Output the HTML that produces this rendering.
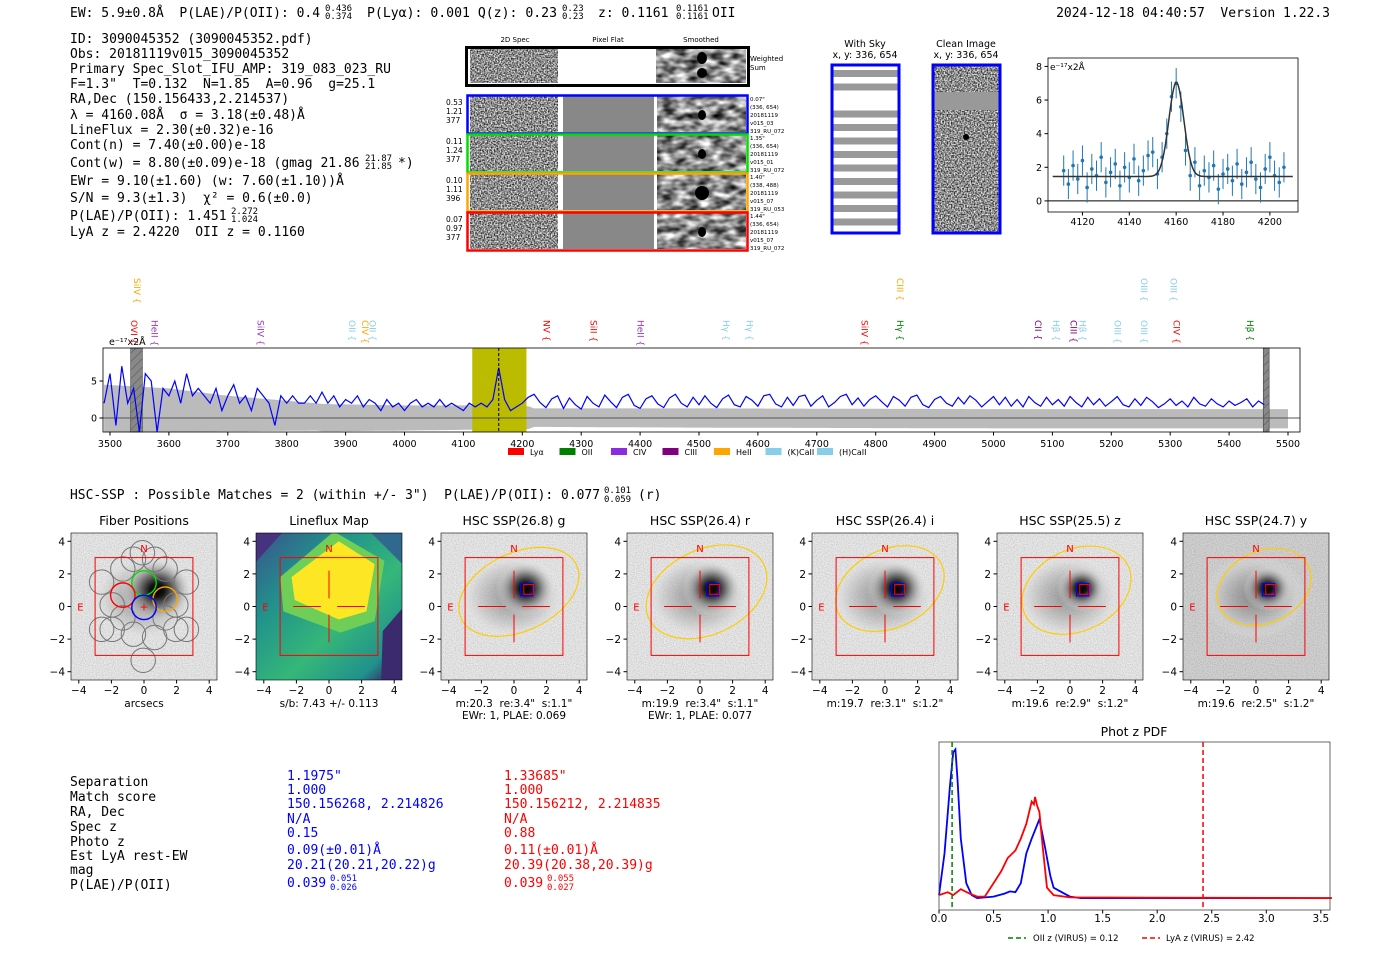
<!DOCTYPE html>
<html><head><meta charset="utf-8"><style>
html,body{margin:0;padding:0;background:#fff}
svg{display:block}
text{white-space:pre}
.m{font-family:"DejaVu Sans Mono","Liberation Mono",monospace;font-size:13px}
.s{font-family:"DejaVu Sans","Liberation Sans",sans-serif}
</style></head><body>
<svg id="fig" width="1400" height="953" viewBox="0 0 1400 953" xmlns="http://www.w3.org/2000/svg" xml:space="preserve">
<defs>
<filter id="nz" x="0" y="0" width="100%" height="100%"><feTurbulence type="fractalNoise" baseFrequency="0.7" numOctaves="1" seed="3"/><feColorMatrix type="matrix" values="0 0 0 0 0  0 0 0 0 0  0 0 0 0 0  0 0 0 -1.7 1.3"/></filter>
<filter id="nzs" x="0" y="0" width="100%" height="100%"><feTurbulence type="fractalNoise" baseFrequency="0.08 0.15" numOctaves="2" seed="5"/><feColorMatrix type="matrix" values="0 0 0 0 0  0 0 0 0 0  0 0 0 0 0  0 0 0 -1.5 1.2"/></filter>
<filter id="nzf" x="0" y="0" width="100%" height="100%"><feTurbulence type="fractalNoise" baseFrequency="0.9" numOctaves="1" seed="7"/><feColorMatrix type="matrix" values="0 0 0 0 0  0 0 0 0 0  0 0 0 0 0  0 0 0 -0.6 0.4"/></filter>
<radialGradient id="gal" cx="0.5" cy="0.5" r="0.5"><stop offset="0" stop-color="#000"/><stop offset="0.2" stop-color="#111"/><stop offset="0.5" stop-color="#777"/><stop offset="1" stop-color="#ececec" stop-opacity="0"/></radialGradient>
<radialGradient id="galsoft" cx="0.5" cy="0.5" r="0.5"><stop offset="0" stop-color="#444"/><stop offset="0.4" stop-color="#888"/><stop offset="0.75" stop-color="#ccc"/><stop offset="1" stop-color="#eee" stop-opacity="0"/></radialGradient>
<linearGradient id="vir" x1="0" y1="0" x2="1" y2="1"><stop offset="0" stop-color="#3b528b"/><stop offset="0.3" stop-color="#21918c"/><stop offset="0.6" stop-color="#35b779"/><stop offset="0.85" stop-color="#21918c"/><stop offset="1" stop-color="#440154"/></linearGradient>
<pattern id="hatch" width="6" height="6" patternUnits="userSpaceOnUse" patternTransform="rotate(45)"><rect width="6" height="6" fill="#888"/><line x1="0" y1="0" x2="0" y2="6" stroke="#555" stroke-width="1"/></pattern>
</defs>

<g class="m" fill="#000">
<text x="70" y="17" textLength="250" lengthAdjust="spacingAndGlyphs">EW: 5.9±0.8Å  P(LAE)/P(OII): 0.4</text>
<text x="325" y="11" style="font-size:9px">0.436</text><text x="325" y="19" style="font-size:9px">0.374</text>
<text x="367" y="17" textLength="190" lengthAdjust="spacingAndGlyphs">P(Lyα): 0.001 Q(z): 0.23</text>
<text x="562" y="11" style="font-size:9px">0.23</text><text x="562" y="19" style="font-size:9px">0.23</text>
<text x="598" y="17">z: 0.1161</text>
<text x="676" y="11" style="font-size:9px">0.1161</text><text x="676" y="19" style="font-size:9px">0.1161</text>
<text x="712" y="17">OII</text>
<text x="1330" y="17" text-anchor="end">2024-12-18 04:40:57  Version 1.22.3</text>
</g>

<g class="m" fill="#000">
<text x="70" y="43">ID: 3090045352 (3090045352.pdf)</text>
<text x="70" y="58">Obs: 20181119v015_3090045352</text>
<text x="70" y="73">Primary Spec_Slot_IFU_AMP: 319_083_023_RU</text>
<text x="70" y="88">F=1.3"  T=0.132  N=1.85  A=0.96  g=25.1</text>
<text x="70" y="103">RA,Dec (150.156433,2.214537)</text>
<text x="70" y="119">λ = 4160.08Å  σ = 3.18(±0.48)Å</text>
<text x="70" y="134">LineFlux = 2.30(±0.32)e-16</text>
<text x="70" y="149">Cont(n) = 7.40(±0.00)e-18</text>
<text x="70" y="167">Cont(w) = 8.80(±0.09)e-18 (gmag 21.86</text>
<text x="365" y="161" style="font-size:9px">21.87</text><text x="365" y="169" style="font-size:9px">21.85</text>
<text x="398" y="167">*)</text>
<text x="70" y="185">EWr = 9.10(±1.60) (w: 7.60(±1.10))Å</text>
<text x="70" y="202">S/N = 9.3(±1.3)  χ² = 0.6(±0.0)</text>
<text x="70" y="220">P(LAE)/P(OII): 1.451</text>
<text x="231" y="214" style="font-size:9px">2.272</text><text x="231" y="222" style="font-size:9px">1.024</text>
<text x="70" y="236">LyA z = 2.4220  OII z = 0.1160</text>
</g>

<g class="s" font-size="7">
<text x="515" y="42" text-anchor="middle">2D Spec</text>
<text x="608" y="42" text-anchor="middle">Pixel Flat</text>
<text x="701" y="42" text-anchor="middle">Smoothed</text>
<rect x="466" y="47" width="282" height="38" fill="#fff"/>
<rect x="470" y="49" width="88" height="34" fill="#fff" filter="url(#nz)"/>
<rect x="656" y="49" width="90" height="34" fill="#fff" filter="url(#nzs)"/>
<ellipse cx="702" cy="58" rx="5" ry="6" fill="#000"/><ellipse cx="702" cy="73" rx="5" ry="5" fill="#000"/>
<rect x="466.5" y="47.5" width="282" height="38" fill="none" stroke="#000" stroke-width="3"/>
<text x="750" y="61">Weighted</text><text x="750" y="70">Sum</text>
<g id="rows"></g>
</g>

<g>
<text class="s" x="865" y="47" font-size="9.5" text-anchor="middle">With Sky</text>
<text class="s" x="865" y="58" font-size="9.5" text-anchor="middle">x, y: 336, 654</text>
<rect x="832" y="65" width="67" height="168" fill="#fff"/>
<g id="skystripes"></g>
<rect x="832" y="65" width="67" height="168" fill="none" stroke="#00f" stroke-width="3"/>
</g>
<g>
<text class="s" x="966" y="47" font-size="9.5" text-anchor="middle">Clean Image</text>
<text class="s" x="966" y="58" font-size="9.5" text-anchor="middle">x, y: 336, 654</text>
<rect x="933" y="65" width="67" height="168" fill="#fff" filter="url(#nz)"/>
<rect x="933" y="92" width="67" height="18" fill="#999"/>
<circle cx="966" cy="137" r="3" fill="#000"/>
<rect x="933" y="65" width="67" height="168" fill="none" stroke="#00f" stroke-width="3"/>
</g>

<g id="zoomplot" class="s" font-size="9.5"></g>
<g id="specplot" class="s" font-size="9.5"></g>

<text class="m" x="70" y="499" textLength="530" lengthAdjust="spacingAndGlyphs">HSC-SSP : Possible Matches = 2 (within +/- 3")  P(LAE)/P(OII): 0.077</text>
<text class="m" x="604" y="493" style="font-size:9px">0.101</text>
<text class="m" x="604" y="502" style="font-size:9px">0.059</text>
<text class="m" x="638" y="499">(r)</text>

<g id="cutouts" class="s"></g>

<g class="m">
<g fill="#000">
<text x="70" y="786">Separation</text><text x="70" y="801">Match score</text><text x="70" y="816">RA, Dec</text>
<text x="70" y="831">Spec z</text><text x="70" y="846">Photo z</text><text x="70" y="860">Est LyA rest-EW</text>
<text x="70" y="874">mag</text><text x="70" y="889">P(LAE)/P(OII)</text></g>
<g fill="#0000ff">
<text x="287" y="780">1.1975"</text><text x="287" y="794">1.000</text><text x="287" y="808">150.156268, 2.214826</text>
<text x="287" y="823">N/A</text><text x="287" y="837">0.15</text><text x="287" y="854">0.09(±0.01)Å</text>
<text x="287" y="869">20.21(20.21,20.22)g</text><text x="287" y="887">0.039</text>
<text x="330" y="881" style="font-size:9px">0.051</text><text x="330" y="890" style="font-size:9px">0.026</text></g>
<g fill="#ff0000">
<text x="504" y="780">1.33685"</text><text x="504" y="794">1.000</text><text x="504" y="808">150.156212, 2.214835</text>
<text x="504" y="823">N/A</text><text x="504" y="837">0.88</text><text x="504" y="854">0.11(±0.01)Å</text>
<text x="504" y="869">20.39(20.38,20.39)g</text><text x="504" y="887">0.039</text>
<text x="547" y="881" style="font-size:9px">0.055</text><text x="547" y="890" style="font-size:9px">0.027</text></g>
</g>

<g id="pdfplot" class="s" font-size="11"></g>
</svg>

<script>
const specStart = 3490, specStep = 10;
const specFlux = [2,6,-1,7,2,4,-2,6,5,-2,4,3,5,2,6,3,4,3,2,4,1,3,4.5,2,3,1,4,3,2,-1,3,2,3,2,2,3,2,
3.5,2,3,1.5,2.5,2,3,1.5,2.5,2,1,2.5,1.5,2,1,2,2.5,1.5,2,1.5,2.5,1.5,2,1.5,1,
2,1.5,2,1.5,2.5,6.8,2.5,1,1.5,2,
2.8,3.2,2.1,1.4,2.6,3.0,1.3,2.7,1.8,1.2,2.9,2.0,1.5,3.1,2.2,1.4,2.8,3.2,1.7,1.3,2.6,3.0,1.9,1.4,2.7,3.2,2.0,1.5,2.8,1.8,
3.0,2.0,1.4,2.6,3.1,1.8,1.5,2.9,2.4,1.6,3.0,3.2,1.9,1.5,2.8,1.7,2.9,3.1,1.6,2.4,3.0,1.5,2.1,2.9,3.2,1.8,2.7,1.6,2.5,3.0,
2.2,1.5,2.9,2.4,1.6,2.8,3.1,1.8,1.4,2.5,2.9,2.0,1.6,2.8,1.9,3.0,2.4,1.5,2.2,2.9,1.8,2.8,1.6,2.5,1.5,2.9,2.1,1.6,2.8,1.8,
2.5,1.6,2.9,2.1,1.5,2.8,1.8,2.6,1.6,2.2,2.9,1.8,1.5,2.6,1.7,2.8,2.2,1.4,1.9,2.6,1.7,2.3,1.5,2.8,1.9,1.6,2.6,1.9,1.5,2.3,1.7,2.1,2.6,1.5,2.3,1.8];
const errWave = [3490,3600,3700,3850,3860,4000,4100,4210,4220,4500,5000,5500];
const errHi = [4.5,4,3,2,1.9,1.7,1.7,1.6,1.3,1.3,1.2,1.2];
const errLo = [-2,-1.9,-1.8,-1.7,-1.8,-1.7,-1.6,-1.5,-1.2,-1.3,-1.4,-1.4];
const specTicks = [3500,3600,3700,3800,3900,4000,4100,4200,4300,4400,4500,4600,4700,4800,4900,5000,5100,5200,5300,5400,5500];
const bandLo = 4115, bandHi = 4207, lineCenter = 4160;
const maskBands = [[3535,3555],[5458,5468]];
const lineLabels = [["SiIV",3545,1,"#ffa500"],["OVI",3540,0,"#ff0000"],["HeII",3575,0,"#9932cc"],["SiIV",3755,0,"#9932cc"],
["OII",3910,0,"#87ceeb"],["CIV",3932,0,"#ffa500"],["OII",3945,0,"#87ceeb"],["NV",4240,0,"#ff0000"],["SiII",4320,0,"#ff0000"],
["HeII",4400,0,"#9932cc"],["Hγ",4545,0,"#87ceeb"],["Hγ",4585,0,"#87ceeb"],["SiIV",4780,0,"#ff0000"],["CIII",4840,1,"#ffa500"],
["Hγ",4840,0,"#008000"],["CII",5075,0,"#800080"],["Hβ",5105,0,"#87ceeb"],["CIII",5135,0,"#800080"],["Hβ",5150,0,"#87ceeb"],
["OIII",5210,0,"#87ceeb"],["OIII",5255,0,"#87ceeb"],["OIII",5255,1,"#87ceeb"],["OIII",5305,1,"#87ceeb"],["CIV",5310,0,"#ff0000"],["Hβ",5435,0,"#008000"]];
const legendNames = ["Lyα","OII","CIV","CIII","HeII","(K)CaII","(H)CaII"];
const legendColors = ["#ff0000","#008000","#8a2be2","#800080","#ffa500","#87ceeb","#87ceeb"];

const fitWave = [4112,4114,4116,4118,4120,4122,4124,4126,4128,4130,4132,4134,4136,4138,4140,4142,4144,4146,4148,4150,4152,4154,4156,4158,4160,4162,4164,4166,4168,4170,4172,4174,4176,4178,4180,4182,4184,4186,4188,4190,4192,4194,4196,4198,4200,4202,4204,4206];
const fitFlux = [1.8,1.0,2.1,1.3,2.4,0.8,1.9,1.5,2.6,1.1,1.7,2.2,0.9,2.0,1.4,2.5,1.2,1.8,2.7,2.9,1.6,2.6,4.0,6.2,7.0,5.6,3.0,1.5,2.3,0.9,1.8,1.4,2.1,0.7,1.6,1.9,1.2,2.2,1.0,1.7,2.3,1.3,0.8,1.9,2.6,1.5,1.1,2.0];
const fitErr = [0.9,0.9,0.9,0.9,0.9,0.9,0.9,0.9,0.9,0.9,0.9,0.9,0.9,0.9,0.9,0.9,0.9,0.9,0.9,0.9,0.9,0.9,0.9,0.9,0.9,0.9,0.9,0.9,0.9,0.9,0.9,0.9,0.9,0.9,0.9,0.9,0.9,0.9,0.9,0.9,0.9,0.9,0.9,0.9,0.9,0.9,0.9,0.9];
const fitCont = 1.45, fitAmp = 5.6, fitMu = 4160.08, fitSigma = 3.18;
const fitXTicks = [4120,4140,4160,4180,4200];
const fitYTicks = [0,2,4,6,8];

const pdfZ = [0,0.05,0.1,0.13,0.15,0.17,0.2,0.25,0.3,0.35,0.5,0.6,0.65,0.7,0.75,0.8,0.85,0.92,0.97,1.02,1.05,1.1,1.2,1.3,3.6];
const pdfBlue = [0.02,0.3,0.75,0.98,1.0,0.8,0.4,0.1,0.02,0,0.01,0.03,0.045,0.04,0.1,0.3,0.4,0.53,0.35,0.15,0.07,0.05,0.01,0,0];
const pdfZr = [0,0.08,0.13,0.2,0.28,0.35,0.42,0.5,0.57,0.63,0.7,0.75,0.8,0.85,0.87,0.88,0.9,0.92,0.95,0.99,1.05,1.2,3.6];
const pdfRed = [0.02,0.04,0.02,0.06,0.03,0.01,0.01,0.1,0.18,0.27,0.32,0.4,0.5,0.65,0.63,0.68,0.62,0.58,0.35,0.07,0.02,0.005,0];
const pdfTicks = [0,0.5,1.0,1.5,2.0,2.5,3.0,3.5];
const oiiZ = 0.12, lyaZ = 2.42;

const cutTitles = ["Fiber Positions","Lineflux Map","HSC SSP(26.8) g","HSC SSP(26.4) r","HSC SSP(26.4) i","HSC SSP(25.5) z","HSC SSP(24.7) y"];
const cutCaps = [["arcsecs"],["s/b: 7.43 +/- 0.113"],["m:20.3  re:3.4\"  s:1.1\"","EWr: 1, PLAE: 0.069"],["m:19.9  re:3.4\"  s:1.1\"","EWr: 1, PLAE: 0.077"],["m:19.7  re:3.1\"  s:1.2\""],["m:19.6  re:2.9\"  s:1.2\""],["m:19.6  re:2.5\"  s:1.2\""]];
const ellRx = [0,0,3.9,3.9,3.5,3.5,3.0];
const ellRy = [0,0,2.4,2.6,2.4,2.5,2.2];
const ellCx = [0,0,0.3,0.4,0.3,0.4,0.5];
const ellCy = [0,0,0.9,0.9,1.1,1.0,1.2];
const cutTicks = [-4,-2,0,2,4];
const fiberX = [-2.6,-1.3,1.3,2.6,-2.6,-1.3,1.3,2.6,-1.95,1.95,-1.95,-0.65,0.65,1.95,-0.65,0.65,-0.1,-0.05];
const fiberY = [1.5,2.3,2.3,1.5,-1.4,-0.7,-0.7,-1.4,0.1,0.1,-1.4,-1.7,-1.9,-1.4,2.9,2.9,3.3,-3.3];
const colFibX = [0,-1.3,1.3,0], colFibY = [1.45,0.7,0.45,-0.05], colFibC = ["#00dd00","#ff0000","#ffa500","#0000ff"];

const rowColors = ["#0000ff","#00dd00","#ffa500","#ff0000"];
const rowStats = [["0.53","1.21","377"],["0.11","1.24","377"],["0.10","1.11","396"],["0.07","0.97","377"]];
const rowInfo = [["0.07\"","(336, 654)","20181119","v015_03","319_RU_072"],["1.35\"","(336, 654)","20181119","v015_01","319_RU_072"],["1.40\"","(338, 488)","20181119","v015_07","319_RU_053"],["1.44\"","(336, 654)","20181119","v015_07","319_RU_072"]];

const NS = "http://www.w3.org/2000/svg";
function mk(tag, attrs, parent) { const e = document.createElementNS(NS, tag); for (const k in attrs) e.setAttribute(k, attrs[k]); parent.appendChild(e); return e; }
function txt(s, attrs, parent) { const e = mk('text', attrs, parent); e.textContent = s; return e; }

const rows = document.getElementById('rows');
const rowTop = [95, 134, 173, 212], rowH = 38;
rowColors.forEach((c, i) => {
  const y = rowTop[i];
  let r = mk('rect', {x:470,y:y+1,width:88,height:rowH-2,fill:'#fff',filter:'url(#nz)'}, rows);
  
  
  r = mk('rect', {x:563,y:y+1,width:91,height:rowH-2,fill:'#888'}, rows);
  
  
  r = mk('rect', {x:657,y:y+1,width:89,height:rowH-2,fill:'#fff',filter:'url(#nzs)'}, rows);
  
  
  const d = mk('ellipse', {cx:702,cy:y+20,rx:4+(i==2?3:0),ry:5+(i==2?2:0),fill:'#000'}, rows);
  
  
  const b = mk('rect', {x:467.5,y:y+0.5,width:280,height:rowH,fill:'none',stroke:c,'stroke-width':2.5}, rows);
  
  
  rowStats[i].forEach((s, k) => {
    const t = txt(s, {x:446,y:y+10+k*9,'font-size':7.5}, rows);
    
    
  });
  rowInfo[i].forEach((s, k) => {
    const t = txt(s, {x:750,y:y+6+k*8,'font-size':5.5}, rows);
    
    
  });
});
const sky = document.getElementById('skystripes');
for (let k = 0; k < 12; k++) {
  if (k === 2) continue;
  const s = mk('rect', {x:832,y:70+k*13.5,width:67,height:7,fill:'#999'}, sky);
  
  
}

(function(){
  const g = document.getElementById('zoomplot');
  const L=1048,R=1298,T=58,B=212, x0=4105.3,x1=4212, y0=-0.66,y1=8.5;
  const X = w => L+(w-x0)/(x1-x0)*(R-L), Y = v => B-(v-y0)/(y1-y0)*(B-T);
  let a = mk('line',{x1:L,x2:R,y1:Y(0),y2:Y(0),stroke:'#000','stroke-width':1}, g);
   
  fitWave.forEach((w,i)=>{
    const e = mk('line',{x1:X(w),x2:X(w),y1:Y(fitFlux[i]-fitErr[i]),y2:Y(fitFlux[i]+fitErr[i]),stroke:'#1f77b4','stroke-width':1}, g);
     
    const p = mk('circle',{cx:X(w),cy:Y(fitFlux[i]),r:1.8,fill:'#1f77b4'}, g);
     
  });
  let d='';
  for (let w=x0+2; w<=x1-2; w+=0.5){ const v = fitCont+fitAmp*Math.exp(-0.5*((w-fitMu)/fitSigma)**2); d += (d?'L':'M')+X(w).toFixed(1)+','+Y(v).toFixed(1); }
  const m = mk('path',{d:d,fill:'none',stroke:'#333','stroke-width':1.5}, g);
   
  const fr = mk('rect',{x:L,y:T,width:R-L,height:B-T,fill:'none',stroke:'#000','stroke-width':0.8}, g);
   
  fitXTicks.forEach(t=>{
    const l = mk('line',{x1:X(t),x2:X(t),y1:B,y2:B+3.5,stroke:'#000'}, g);
     
    const s = txt(String(t),{x:X(t),y:B+13,'text-anchor':'middle'}, g);
     
  });
  fitYTicks.forEach(t=>{
    const l = mk('line',{x1:L-3.5,x2:L,y1:Y(t),y2:Y(t),stroke:'#000'}, g);
     
    const s = txt(String(t),{x:L-6,y:Y(t)+3.5,'text-anchor':'end'}, g);
     
  });
  const u = txt('e⁻¹⁷x2Å',{x:L+2,y:T+12,'font-size':9}, g);
   
})();

(function(){
  const g = document.getElementById('specplot');
  const L=103,R=1300,T=348,B=432;
  const X = w => 110+(w-3500)*(1288-110)/2000, Y = v => 418-v*7.4;
  const interp = (arr, w) => { for (let i=1;i<errWave.length;i++) if (w<=errWave[i]) { const f=(w-errWave[i-1])/(errWave[i]-errWave[i-1]); return arr[i-1]+f*(arr[i]-arr[i-1]); } return arr[arr.length-1]; };
  let up='', lo='';
  for (let w=3490; w<=5500; w+=5){ up += (up?'L':'M')+X(w).toFixed(1)+','+Math.max(T,Y(interp(errHi,w))).toFixed(1); }
  for (let w=5500; w>=3490; w-=5){ lo += 'L'+X(w).toFixed(1)+','+Math.min(B,Y(interp(errLo,w))).toFixed(1); }
  const band = mk('path',{d:up+lo+'Z',fill:'#bbb'}, g);
   
  const yb = mk('rect',{x:X(bandLo),y:T,width:X(bandHi)-X(bandLo),height:B-T,fill:'#bbbb00'}, g);
   
  maskBands.forEach(mb=>{
    const r = mk('rect',{x:X(mb[0]),y:T,width:X(mb[1])-X(mb[0]),height:B-T,fill:'url(#hatch)',stroke:'#444','stroke-width':0.6}, g);
     
  });
  const z = mk('line',{x1:L,x2:R,y1:Y(0),y2:Y(0),stroke:'#555','stroke-width':1}, g);
   
  let d='';
  specFlux.forEach((v,i)=>{ const w=specStart+i*specStep; d += (i?'L':'M')+X(w).toFixed(1)+','+Math.min(B,Math.max(T,Y(v))).toFixed(1); });
  const p = mk('path',{d:d,fill:'none',stroke:'#0000ff','stroke-width':1.2}, g);
   
  const c = mk('line',{x1:X(lineCenter),x2:X(lineCenter),y1:T,y2:B,stroke:'#000','stroke-dasharray':'3,2','stroke-width':1}, g);
   
  const fr = mk('rect',{x:L,y:T,width:R-L,height:B-T,fill:'none',stroke:'#000','stroke-width':0.8}, g);
   
  specTicks.forEach(t=>{
    const l = mk('line',{x1:X(t),x2:X(t),y1:B,y2:B+3.5,stroke:'#000'}, g);
     
    const s = txt(String(t),{x:X(t),y:B+15,'text-anchor':'middle'}, g);
     
  });
  [0,5].forEach(t=>{
    const l = mk('line',{x1:L-3.5,x2:L,y1:Y(t),y2:Y(t),stroke:'#000'}, g);
     
    const s = txt(String(t),{x:L-6,y:Y(t)+3.5,'text-anchor':'end'}, g);
     
  });
  const u = txt('e⁻¹⁷x2Å',{x:L+6,y:T-3,'font-size':9.5}, g);
   
  lineLabels.forEach(ll=>{
    const x = X(ll[1]), y = ll[2] ? 278 : 320;
    const t = txt(ll[0]+' {',{x:x,y:y,'font-size':9,fill:ll[3],transform:'rotate(90 '+x+' '+y+')','dominant-baseline':'middle'}, g);
     
  });
  legendNames.forEach((n,i)=>{
    const x = 508+i*51.5;
    const r = mk('rect',{x:x,y:448,width:16,height:7,fill:legendColors[i]}, g);
     
    const t = txt(n,{x:x+22,y:455,'font-size':8}, g);
     
  });
})();

(function(){
  const g = document.getElementById('cutouts');
  const centers = [144,329,514,700,885,1070,1256];
  const sc = 16.3, cy0 = 606.5, T = 533, H = 147;
  centers.forEach((cx,i)=>{
    const L = cx-73;
    const X = v => cx+v*sc, Y = v => cy0-v*sc;
    const grp = mk('g',{}, g);
    
    
    const clip = mk('clipPath',{id:'cp'+i}, grp); mk('rect',{x:L,y:T,width:146,height:H}, clip);
    const inner = mk('g',{'clip-path':'url(#cp'+i+')'}, grp);
    if (i===1) {
      const bg = mk('rect',{x:L,y:T,width:146,height:H,fill:'url(#vir)'}, inner);
       
      mk('polygon',{points:[[X(-4.6),Y(4.6)],[X(-2.8),Y(4.6)],[X(-4.6),Y(2.6)]].join(' '),fill:'#46327e'}, inner);
      mk('polygon',{points:[[X(3.2),Y(-4.6)],[X(4.6),Y(-4.6)],[X(4.6),Y(0)],[X(3.3),Y(-1.5)]].join(' '),fill:'#3b2a6e'}, inner);
      mk('polygon',{points:[[X(2.5),Y(4.6)],[X(4.6),Y(4.6)],[X(4.6),Y(2.5)]].join(' '),fill:'#31688e'}, inner);
      mk('polygon',{points:[[X(-3),Y(1.8)],[X(0.3),Y(4.6)],[X(3.4),Y(2.8)],[X(2.8),Y(-0.9)],[X(0.7),Y(-1.6)],[X(-2.8),Y(-0.3)]].join(' '),fill:'#6ece58'}, inner);
      const y = mk('polygon',{points:[[X(-2.3),Y(1.8)],[X(0.6),Y(4)],[X(2.8),Y(2.6)],[X(2.3),Y(-0.3)],[X(0.6),Y(-0.8)],[X(-2.1),Y(0.4)]].join(' '),fill:'#fde725'}, inner);
       
    } else {
      const bg = mk('rect',{x:L,y:T,width:146,height:H,fill:i===6?'#d4d4d4':'#ebebeb'}, inner);
       
      mk('rect',{x:L,y:T,width:146,height:H,fill:'#fff',filter:'url(#nzf)',opacity:0.5}, inner);
      const sx = i===0 ? 0.8 : 0.7, sy = i===0 ? 1.0 : 1.1;
      mk('ellipse',{cx:X(sx-0.8),cy:Y(sy-0.5),rx:sc*3.2,ry:sc*2.6,fill:'url(#galsoft)',opacity:0.5}, inner);
      const gl = mk('ellipse',{cx:X(sx),cy:Y(sy),rx:sc*(i===0?2.2:(i>=5?1.5:1.8)),ry:sc*(i===0?2.0:(i>=5?1.4:1.7)),fill:'url(#gal)'}, inner);
       
    }
    if (i===0) {
      fiberX.forEach((fx,k)=>{
        const c = mk('circle',{cx:X(fx),cy:Y(fiberY[k]),r:sc*0.75,fill:'none',stroke:'#777','stroke-width':1}, inner);
         
      });
      colFibX.forEach((fx,k)=>{
        const c = mk('circle',{cx:X(fx),cy:Y(colFibY[k]),r:sc*0.75,fill:'none',stroke:colFibC[k],'stroke-width':1.4}, inner);
         
      });
      txt('+',{x:X(0),y:Y(0)+4,'text-anchor':'middle',fill:'#f00','font-size':11}, inner);
    }
    if (i>=2) {
      const e = mk('ellipse',{cx:X(ellCx[i]),cy:Y(ellCy[i]),rx:ellRx[i]*sc,ry:ellRy[i]*sc,fill:'none',stroke:'#ffcc00','stroke-width':1.2,transform:'rotate(-25 '+X(ellCx[i])+' '+Y(ellCy[i])+')'}, inner);
       
      const b = mk('rect',{x:X(0.4),y:Y(1.4),width:sc*0.75,height:sc*0.75,fill:'none',stroke:'#00f','stroke-width':1.2}, inner);
       
      const r = mk('rect',{x:X(0.6),y:Y(1.35),width:sc*0.6,height:sc*0.6,fill:'none',stroke:'#f00','stroke-width':1}, inner);
       
    }
    const sq = mk('rect',{x:X(-3),y:Y(3),width:6*sc,height:6*sc,fill:'none',stroke:'#f00','stroke-width':1}, inner);
     
    if (i>=1) {
      [[-2.2,0,-0.5,0],[0.5,0,2.2,0],[0,2.2,0,0.5],[0,-0.5,0,-2.2]].forEach(s=>{
        const l = mk('line',{x1:X(s[0]),y1:Y(s[1]),x2:X(s[2]),y2:Y(s[3]),stroke:'#f00','stroke-width':1}, inner);
         
      });
    }
    txt('N',{x:X(0),y:Y(3.6)+4,'text-anchor':'middle',fill:'#f00','font-size':10}, inner);
    txt('E',{x:X(-3.9),y:Y(0)+4,'text-anchor':'middle',fill:'#f00','font-size':10}, inner);
    const fr = mk('rect',{x:L,y:T,width:146,height:H,fill:'none',stroke:'#000','stroke-width':0.6}, grp);
     
    const tt = txt(cutTitles[i],{x:cx,y:525,'text-anchor':'middle','font-size':12.5}, grp);
     
    cutTicks.forEach(t=>{
      mk('line',{x1:X(t),x2:X(t),y1:T+H,y2:T+H+3.5,stroke:'#000'}, grp);
      const a = txt(t<0?'−'+(-t):String(t),{x:X(t),y:T+H+14,'text-anchor':'middle','font-size':10.5}, grp);
       
      mk('line',{x1:L-3.5,x2:L,y1:Y(t),y2:Y(t),stroke:'#000'}, grp);
      const b = txt(t<0?'−'+(-t):String(t),{x:L-6,y:Y(t)+4,'text-anchor':'end','font-size':10.5}, grp);
       
    });
    cutCaps[i].forEach((s,k)=>{
      const c = txt(s,{x:cx,y:707+k*12,'text-anchor':'middle','font-size':10.5}, grp);
       
    });
  });
})();

(function(){
  const g = document.getElementById('pdfplot');
  const L=939,R=1330,T=742,B=910, x0=0, x1=(1330-939)/109.1, y0=-0.08, y1=1.05;
  const X = z => L+(z-x0)/(x1-x0)*(R-L), Y = v => B-(v-y0)/(y1-y0)*(B-T);
  const t = txt('Phot z PDF',{x:1134,y:736,'text-anchor':'middle','font-size':12.5}, g);
   
  const mkLine = (zs, vs, col, name) => {
    let d=''; zs.forEach((z,i)=>{ d += (i?'L':'M')+X(z).toFixed(1)+','+Y(vs[i]).toFixed(1); });
    const p = mk('path',{d:d,fill:'none',stroke:col,'stroke-width':1.8}, g);
     
  };
  mkLine(pdfZ,pdfBlue,'#0000ff','pdf-blue-match');
  mkLine(pdfZr,pdfRed,'#ff0000','pdf-red-match');
  const a = mk('line',{x1:X(oiiZ),x2:X(oiiZ),y1:T,y2:B,stroke:'#008000','stroke-width':1.5,'stroke-dasharray':'5,3'}, g);
   
  const b = mk('line',{x1:X(lyaZ),x2:X(lyaZ),y1:T,y2:B,stroke:'#ff0000','stroke-width':1.5,'stroke-dasharray':'5,3'}, g);
   
  const fr = mk('rect',{x:L,y:T,width:R-L,height:B-T,fill:'none',stroke:'#444','stroke-width':0.8}, g);
   
  pdfTicks.forEach(v=>{
    mk('line',{x1:X(v),x2:X(v),y1:B,y2:B+3.5,stroke:'#000'}, g);
    const s = txt(v.toFixed(1),{x:X(v),y:B+12,'text-anchor':'middle','font-size':10.5}, g);
     
  });
  const l1 = mk('line',{x1:1008,x2:1026,y1:938,y2:938,stroke:'#008000','stroke-width':1.5,'stroke-dasharray':'5,3'}, g);
   
  const t1 = txt('OII z (VIRUS) = 0.12',{x:1033,y:941,'font-size':8.5}, g);
   
  const l2 = mk('line',{x1:1142,x2:1160,y1:938,y2:938,stroke:'#ff0000','stroke-width':1.5,'stroke-dasharray':'5,3'}, g);
   
  const t2 = txt('LyA z (VIRUS) = 2.42',{x:1166,y:941,'font-size':8.5}, g);
   
})();
</script>
</body></html>
